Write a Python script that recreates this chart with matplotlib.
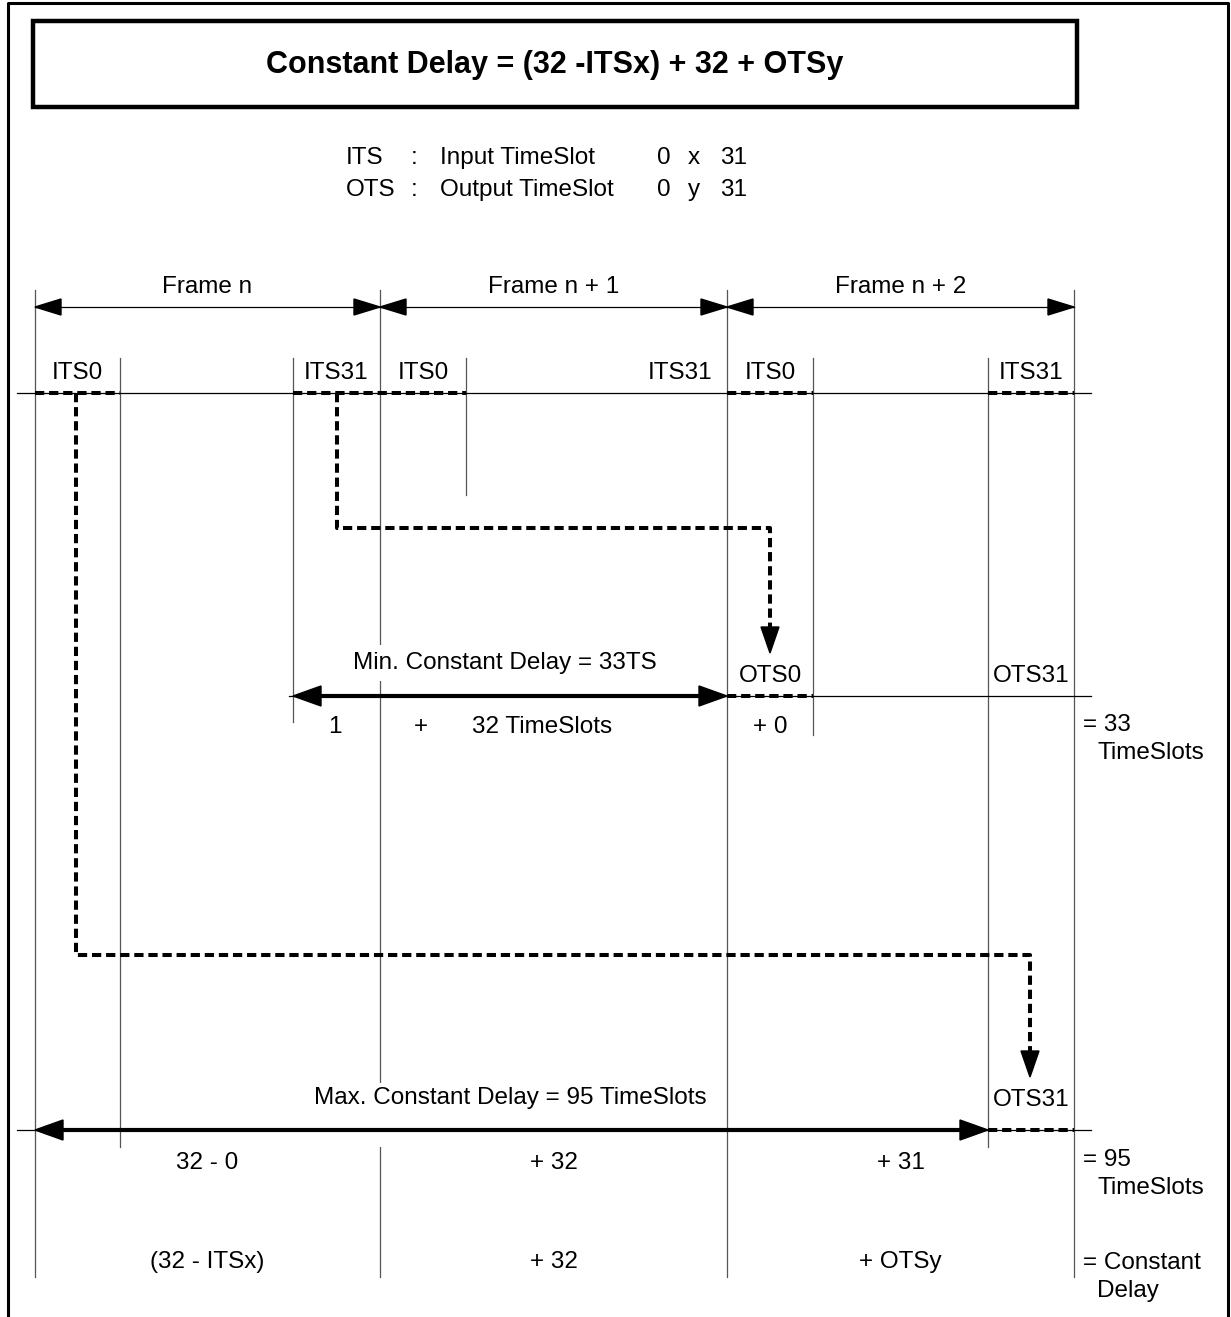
import matplotlib.pyplot as plt
from matplotlib.patches import Polygon, Rectangle

plt.rcParams['font.family'] = ['Liberation Sans', 'DejaVu Sans']

W, H = 1231, 1317

# layout of the timing diagram (pixel columns / rows of the drawing)
frame_x = [35, 380, 727, 1074]
frame_names = ["Frame n", "Frame n + 1", "Frame n + 2"]
slot_x = [120, 293, 466, 813, 988]
its_slots = [(35, 120), (293, 466), (727, 813), (988, 1074)]
its_labels = ["ITS0", "ITS31", "ITS0", "ITS31", "ITS0", "ITS31"]
its_label_x = [77, 336, 423, 680, 770, 1031]

min_parts = ["1", "+", "32 TimeSlots", "+ 0"]
min_parts_x = [335, 421, 542, 770]
max_parts = ["32 - 0", "+ 32", "+ 31"]
formula_parts = ["(32 - ITSx)", "+ 32", "+ OTSy"]
totals = [("= 33", "TimeSlots"), ("= 95", "TimeSlots"), ("= Constant", "Delay")]

y_frame, y_its, y_min, y_max = 307, 393, 696, 1130
FS = 17.5


def head(ax, tip, d, L=26, hw=9):
    dx, dy = d
    bx, by = tip[0] - L * dx, tip[1] - L * dy
    px, py = -dy, dx
    ax.add_patch(Polygon([tip, (bx + hw * px, by + hw * py), (bx - hw * px, by - hw * py)],
                         closed=True, color='black', zorder=5))


def dashed(ax, xs, ys):
    ax.plot(xs, ys, color='black', lw=2.9, dashes=(2.3, 1.2), solid_capstyle='butt',
            dash_capstyle='butt', zorder=4)


def vline(ax, x, y0, y1):
    ax.plot([x, x], [y0, y1], color='#555555', lw=0.9, zorder=2)


fig = plt.figure(figsize=(W / 100, H / 100), dpi=100)
ax = fig.add_axes([0, 0, 1, 1])
ax.set_xlim(0, W)
ax.set_ylim(H, 0)
ax.axis('off')

# outer border and formula box
ax.plot([8, 8, 1228, 1228], [H, 3, 3, H], color='black', lw=2.2)
ax.add_patch(Rectangle((33, 21), 1044, 86, fill=False, lw=3.2, ec='black'))
ax.text(555, 65, "Constant Delay = (32 -ITSx) + 32 + OTSy", ha='center', va='center',
        fontsize=22, fontweight='bold')

# ITS / OTS legend
for y, a, b, c in [(158, "ITS", "Input TimeSlot", "x"), (190, "OTS", "Output TimeSlot", "y")]:
    ax.text(346, y, a, va='center', fontsize=FS)
    ax.text(414, y, ":", va='center', ha='center', fontsize=FS)
    ax.text(440, y, b, va='center', fontsize=FS)
    ax.text(664, y, "0", va='center', ha='center', fontsize=FS)
    ax.text(694, y, c, va='center', ha='center', fontsize=FS)
    ax.text(720, y, "31", va='center', fontsize=FS)

# frame boundaries
for x in frame_x:
    vline(ax, x, 290, 1277)
for i, name in enumerate(frame_names):
    x0, x1 = frame_x[i], frame_x[i + 1]
    ax.plot([x0, x1], [y_frame, y_frame], color='black', lw=0.9)
    head(ax, (x0, y_frame), (-1, 0), L=26, hw=8)
    head(ax, (x1, y_frame), (1, 0), L=26, hw=8)
    ax.text((x0 + x1) / 2, 287, name, ha='center', va='center', fontsize=FS)

# timeslot edges
slot_ends = {120: 1147, 293: 722, 466: 495, 813: 735, 988: 1147}
for x in slot_x:
    vline(ax, x, 358, slot_ends[x])

# input timeline
ax.plot([17, 1091], [y_its, y_its], color='black', lw=0.9)
for x0, x1 in its_slots:
    dashed(ax, [x0, x1], [y_its, y_its])
for lab, x in zip(its_labels, its_label_x):
    ax.text(x, 373, lab, ha='center', va='center', fontsize=FS,
            bbox=dict(fc='white', ec='none', pad=0))

# routing paths
dashed(ax, [337, 337, 770, 770], [y_its, 528, 528, 628])
head(ax, (770, 653), (0, 1), L=26, hw=9)
dashed(ax, [76, 76, 1030, 1030], [y_its, 955, 955, 1052])
head(ax, (1030, 1077), (0, 1), L=26, hw=9)

# minimum delay row
ax.plot([289, 1091], [y_min, y_min], color='black', lw=0.9)
ax.plot([310, 710], [y_min, y_min], color='black', lw=3.0, solid_capstyle='butt', zorder=4)
head(ax, (293, y_min), (-1, 0), L=28, hw=10)
head(ax, (727, y_min), (1, 0), L=28, hw=10)
dashed(ax, [727, 813], [y_min, y_min])
ax.text(505, 663, "Min. Constant Delay = 33TS", ha='center', va='center', fontsize=FS,
        bbox=dict(fc='white', ec='none', pad=5), zorder=6)
ax.text(770, 676, "OTS0", ha='center', va='center', fontsize=FS)
ax.text(1031, 676, "OTS31", ha='center', va='center', fontsize=FS)
for lab, x in zip(min_parts, min_parts_x):
    ax.text(x, 727, lab, ha='center', va='center', fontsize=FS)

# maximum delay row
ax.plot([17, 1091], [y_max, y_max], color='black', lw=0.9)
ax.plot([52, 970], [y_max, y_max], color='black', lw=3.0, solid_capstyle='butt', zorder=4)
head(ax, (35, y_max), (-1, 0), L=28, hw=10)
head(ax, (988, y_max), (1, 0), L=28, hw=10)
dashed(ax, [988, 1074], [y_max, y_max])
ax.text(510, 1098, "Max. Constant Delay = 95 TimeSlots", ha='center', va='center', fontsize=FS,
        bbox=dict(fc='white', ec='none', pad=3), zorder=6)
ax.text(1031, 1100, "OTS31", ha='center', va='center', fontsize=FS)
# the frame n+1 line is broken around the max delay label
ax.add_patch(Rectangle((376, 1084), 8, 63, fc='white', ec='none', zorder=3))

centers = [(frame_x[i] + frame_x[i + 1]) / 2 for i in range(3)]
for lab, x in zip(max_parts, centers):
    ax.text(x, 1163, lab, ha='center', va='center', fontsize=FS)
for lab, x in zip(formula_parts, centers):
    ax.text(x, 1262, lab, ha='center', va='center', fontsize=FS)

for (a, b), y in zip(totals, [725, 1160, 1263]):
    ax.text(1083, y, a, va='center', fontsize=FS)
    ax.text(1097, y + 28, b, va='center', fontsize=FS)

fig.savefig("out.png", dpi=100)
